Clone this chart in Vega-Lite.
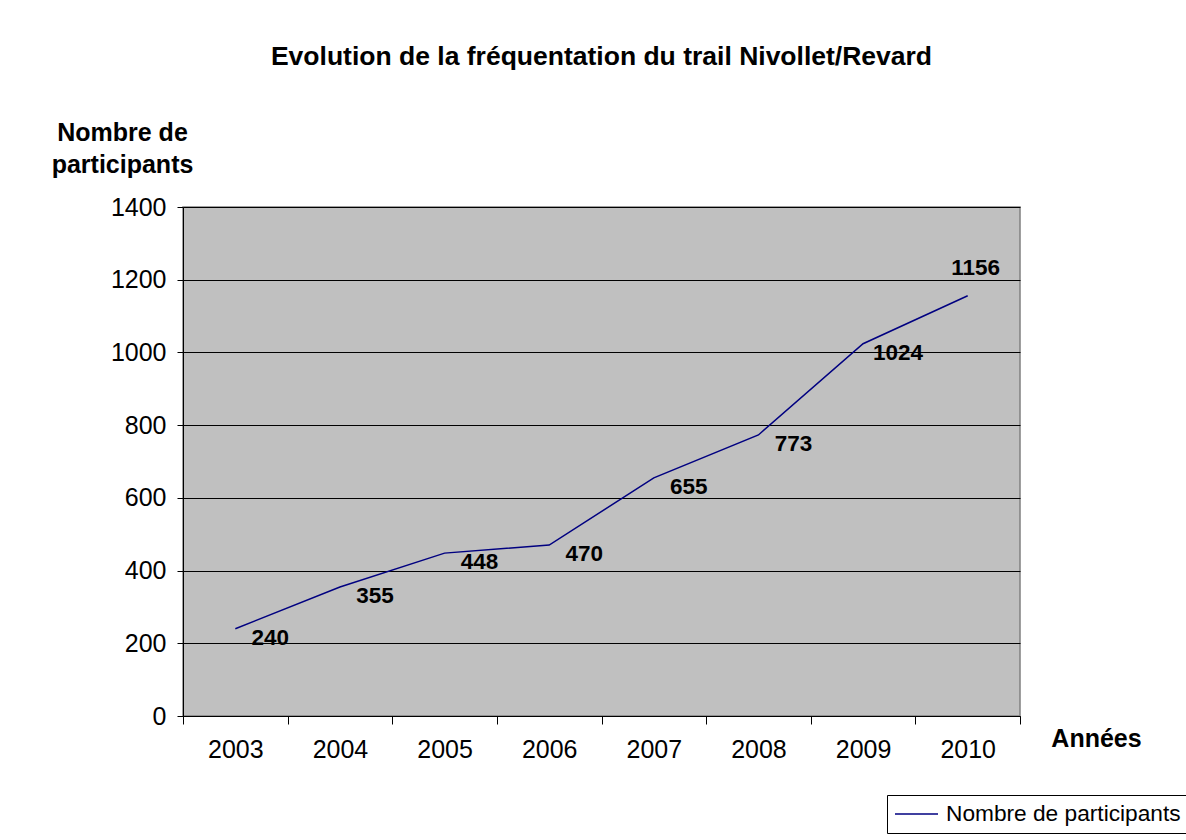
{
  "$schema": "https://vega.github.io/schema/vega-lite/v6.json",
  "autosize": "none",
  "width": 837,
  "height": 509,
  "padding": {"left": 183, "top": 207, "right": 166, "bottom": 124},
  "background": "white",
  "title": {
    "text": "Evolution de la fréquentation du trail Nivollet/Revard",
    "font": "Liberation Sans",
    "fontSize": 26.5,
    "fontWeight": "bold",
    "color": "black",
    "anchor": "middle",
    "offset": 50
  },
  "config": {
    "view": {"fill": "#C0C0C0", "stroke": "#808080", "strokeWidth": 1.5},
    "font": "Liberation Sans"
  },
  "data": {
    "values": [
      {"annee": "2003", "participants": 240, "serie": "Nombre de participants"},
      {"annee": "2004", "participants": 355, "serie": "Nombre de participants"},
      {"annee": "2005", "participants": 448, "serie": "Nombre de participants"},
      {"annee": "2006", "participants": 470, "serie": "Nombre de participants"},
      {"annee": "2007", "participants": 655, "serie": "Nombre de participants"},
      {"annee": "2008", "participants": 773, "serie": "Nombre de participants"},
      {"annee": "2009", "participants": 1024, "serie": "Nombre de participants"},
      {"annee": "2010", "participants": 1156, "serie": "Nombre de participants"}
    ]
  },
  "encoding": {
    "x": {
      "field": "annee",
      "type": "ordinal",
      "scale": {"type": "band", "paddingInner": 0, "paddingOuter": 0},
      "axis": {
        "title": "Années",
        "titleFont": "Liberation Sans",
        "titleFontSize": 25,
        "titleFontWeight": "bold",
        "titleColor": "black",
        "titleX": 913,
        "titleY": 22,
        "titleAlign": "center",
        "titleBaseline": "middle",
        "labelAngle": 0,
        "labelFont": "Liberation Sans",
        "labelFontSize": 25,
        "labelColor": "black",
        "labelPadding": 13,
        "tickBand": "extent",
        "tickSize": 8,
        "tickColor": "black",
        "domainColor": "black",
        "grid": false
      }
    },
    "y": {
      "field": "participants",
      "type": "quantitative",
      "scale": {"domain": [0, 1400]},
      "axis": {
        "values": [0, 200, 400, 600, 800, 1000, 1200, 1400],
        "format": "d",
        "title": ["Nombre de", "participants"],
        "titleFont": "Liberation Sans",
        "titleFontSize": 25,
        "titleFontWeight": "bold",
        "titleColor": "black",
        "titleAngle": 0,
        "titleAlign": "center",
        "titleBaseline": "middle",
        "titleLineHeight": 32,
        "titleX": -61,
        "titleY": -75,
        "labelFont": "Liberation Sans",
        "labelFontSize": 25,
        "labelColor": "black",
        "labelPadding": 11,
        "tickSize": 6,
        "tickColor": "black",
        "domainColor": "black",
        "grid": true,
        "gridColor": "black",
        "gridWidth": 1
      }
    }
  },
  "layer": [
    {
      "mark": {"type": "line", "strokeWidth": 1.5},
      "encoding": {
        "color": {
          "field": "serie",
          "type": "nominal",
          "scale": {"range": ["#000080"]},
          "legend": {
            "title": null,
            "orient": "none",
            "legendX": 704,
            "legendY": 588,
            "strokeColor": "black",
            "fillColor": "white",
            "padding": 7,
            "clipHeight": 24,
            "symbolType": "stroke",
            "symbolSize": 1850,
            "symbolStrokeWidth": 1.5,
            "labelFont": "Liberation Sans",
            "labelFontSize": 22.7,
            "labelColor": "black",
            "labelOffset": 7,
            "labelLimit": 0
          }
        }
      }
    },
    {
      "transform": [{"filter": "datum.annee != '2010'"}],
      "mark": {"type": "text", "font": "Liberation Sans", "fontSize": 22.5, "fontWeight": "bold", "color": "black", "dx": 35, "dy": 9},
      "encoding": {"text": {"field": "participants", "type": "quantitative"}}
    },
    {
      "transform": [{"filter": "datum.annee == '2010'"}],
      "mark": {"type": "text", "font": "Liberation Sans", "fontSize": 22.5, "fontWeight": "bold", "color": "black", "dx": 8, "dy": -28},
      "encoding": {"text": {"field": "participants", "type": "quantitative"}}
    }
  ]
}
